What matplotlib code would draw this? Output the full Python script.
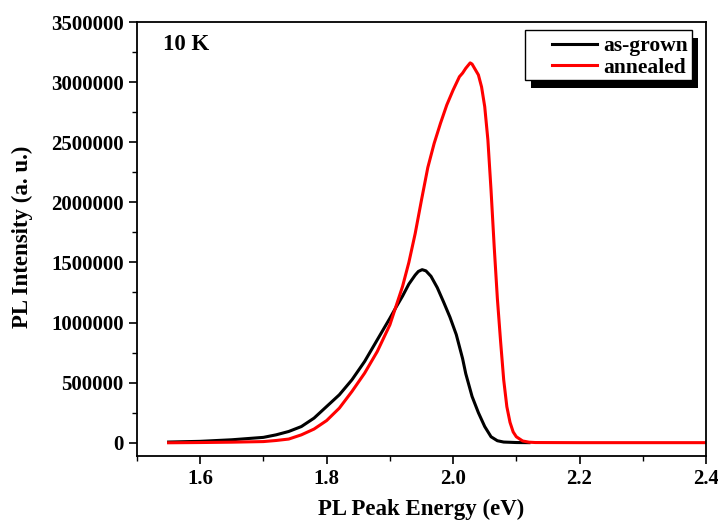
import matplotlib
matplotlib.use("Agg")
import matplotlib.pyplot as plt
from matplotlib.ticker import MultipleLocator, FixedLocator, FormatStrFormatter
from matplotlib.patches import Rectangle
from matplotlib.transforms import IdentityTransform

plt.rcParams['font.family'] = ['Liberation Serif', 'DejaVu Serif']
plt.rcParams['font.weight'] = 'bold'

# as-grown (black)
x_grown = [1.55, 1.60, 1.65, 1.70, 1.72, 1.74, 1.76, 1.78, 1.80, 1.82, 1.84, 1.86, 1.88,
           1.90, 1.91, 1.92, 1.93, 1.94, 1.945, 1.951, 1.957, 1.965, 1.975, 1.985, 1.995,
           2.005, 2.015, 2.02, 2.03, 2.04, 2.05, 2.06, 2.07, 2.08, 2.10, 2.12]
y_grown = [6000, 12000, 25000, 45000, 66000, 94000, 135000, 205000, 302000, 399000,
           524000, 676000, 856000, 1036000, 1130000, 1220000, 1320000, 1395000, 1425000,
           1440000, 1430000, 1385000, 1290000, 1170000, 1045000, 900000, 700000, 575000,
           385000, 250000, 135000, 50000, 17000, 6000, 2000, 1000]

# annealed (red)
x_ann = [1.55, 1.60, 1.65, 1.70, 1.72, 1.74, 1.76, 1.78, 1.80, 1.82, 1.84, 1.86, 1.88,
         1.90, 1.92, 1.93, 1.94, 1.95, 1.96, 1.97, 1.98, 1.99, 2.00, 2.01, 2.015, 2.02,
         2.027, 2.03, 2.04, 2.045, 2.05, 2.055, 2.06, 2.065, 2.07, 2.075, 2.08, 2.085,
         2.09, 2.095, 2.10, 2.11, 2.12, 2.13, 2.20, 2.30, 2.40]
y_ann = [0, 2000, 5000, 10000, 19000, 31000, 66000, 114000, 185000, 288000, 427000,
         579000, 759000, 981000, 1300000, 1500000, 1740000, 2020000, 2290000, 2490000,
         2657000, 2810000, 2934000, 3045000, 3075000, 3115000, 3160000, 3150000, 3060000,
         2960000, 2796000, 2520000, 2100000, 1630000, 1200000, 850000, 524000, 300000,
         170000, 90000, 50000, 15000, 5000, 2000, 1000, 1000, 1000]

W, H = 718, 521
fig = plt.figure(figsize=(W / 100, H / 100), dpi=100)
ax = fig.add_axes([137 / W, 1 - 456 / H, (706 - 137) / W, (456 - 22) / H])

ax.plot(x_grown, y_grown, color='black', lw=2.2, label='as-grown')
ax.plot(x_ann, y_ann, color='#ff0000', lw=2.2, label='annealed')

ax.set_xlim(1.5, 2.4)
ax.set_ylim(-110000, 3500000)
ax.xaxis.set_major_locator(FixedLocator([1.6, 1.8, 2.0, 2.2, 2.4]))
ax.xaxis.set_minor_locator(MultipleLocator(0.1))
ax.yaxis.set_major_locator(MultipleLocator(500000))
ax.yaxis.set_minor_locator(MultipleLocator(250000))
ax.xaxis.set_major_formatter(FormatStrFormatter('%.1f'))
ax.yaxis.set_major_formatter(FormatStrFormatter('%d'))

ax.tick_params(axis='both', which='major', direction='out', length=6, width=1.2,
               labelsize=15, top=False, right=False)
ax.tick_params(axis='both', which='minor', direction='out', length=3.5, width=1.0,
               top=False, right=False)
for lab in ax.get_xticklabels() + ax.get_yticklabels():
    lab.set_fontweight('bold')
for s in ax.spines.values():
    s.set_linewidth(1.3)

ax.set_xlabel('PL Peak Energy (eV)', fontsize=16.5, fontweight='bold')
ax.xaxis.set_label_coords(0.5, -0.098)
ax.set_ylabel('PL Intensity (a. u.)', fontsize=16.5, fontweight='bold')
ax.yaxis.set_label_coords(-0.182, 0.505)

ax.text(163, H - 45, '10 K', transform=IdentityTransform(), fontsize=16.5,
        fontweight='bold', va='center', ha='left')

# legend (frame and shadow drawn separately, Origin style)
leg = ax.legend(loc='upper left', bbox_to_anchor=(552, H - 36),
                bbox_transform=IdentityTransform(), frameon=False,
                prop={'weight': 'bold', 'size': 15.5}, handlelength=2.1,
                borderpad=0, labelspacing=0.08, handletextpad=0.3, borderaxespad=0)
leg.set_zorder(10)

fx0, fy0, fw, fh = 525, H - 80, 167, 50
shadow = Rectangle((fx0 + 6, fy0 - 8), fw, fh, transform=IdentityTransform(),
                   facecolor='black', edgecolor='none', zorder=8, clip_on=False)
frame = Rectangle((fx0, fy0), fw, fh, transform=IdentityTransform(),
                  facecolor='white', edgecolor='black', lw=1.0, zorder=9, clip_on=False)
ax.add_artist(shadow)
ax.add_artist(frame)

fig.savefig('out.png', dpi=100)
